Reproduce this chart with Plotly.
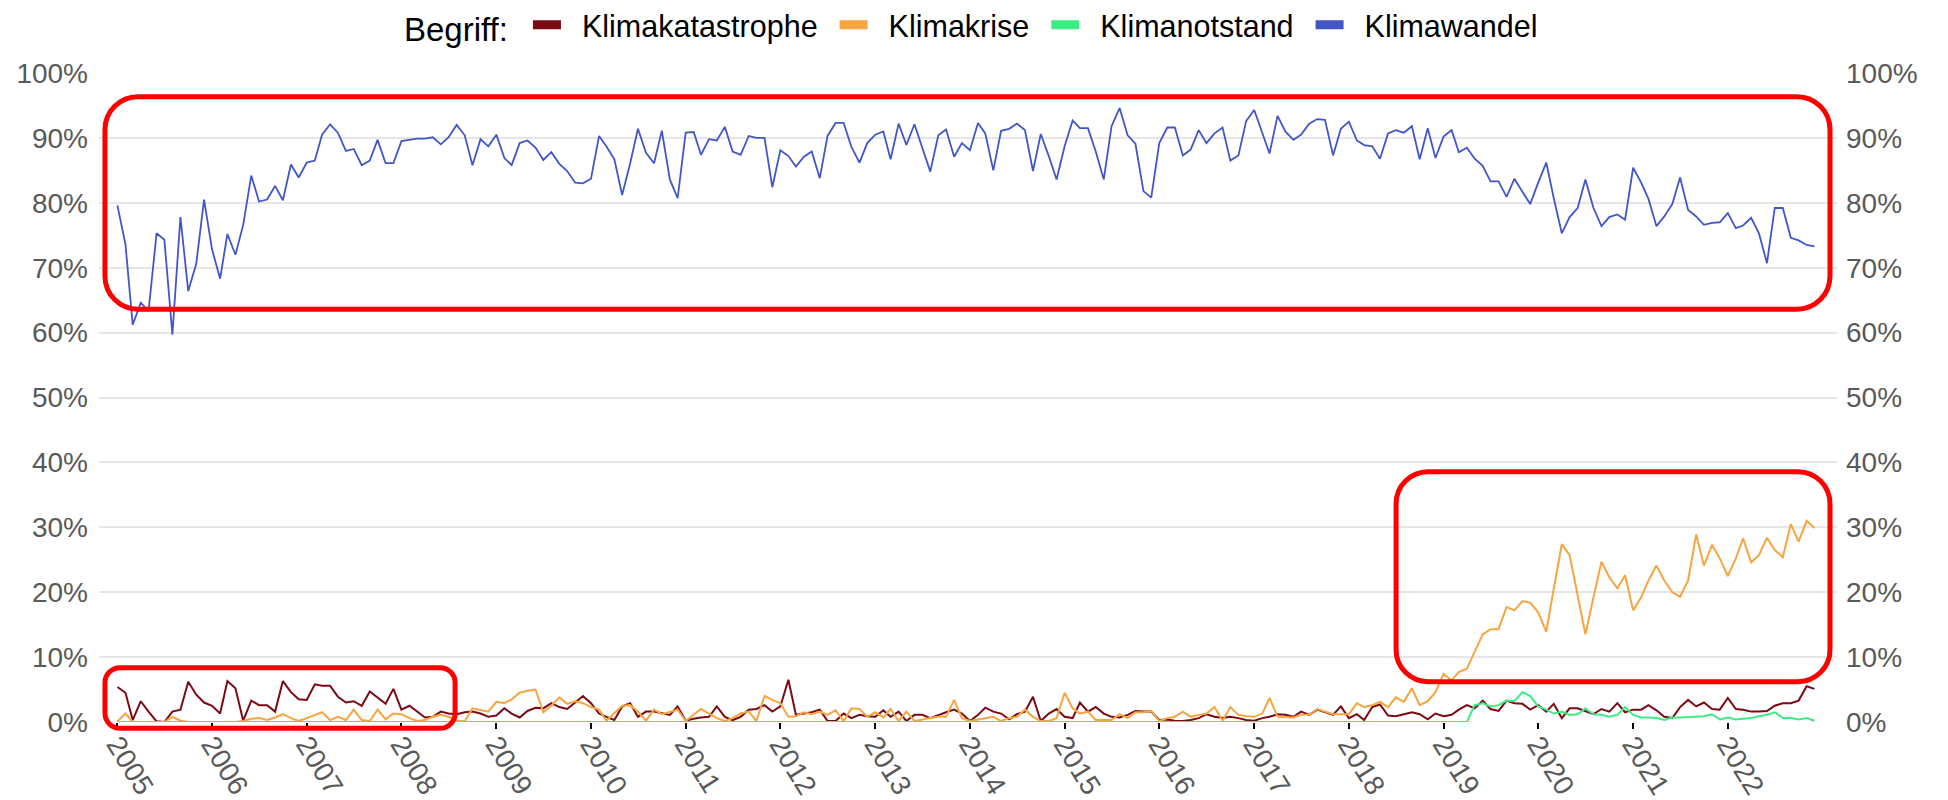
import pandas as pd
import plotly.graph_objects as go

# ---------------- data (share of search interest, %) ----------------
months = pd.date_range("2005-01-01", "2022-12-01", freq="MS")

klimakatastrophe = [
    5.4, 4.5, 0.3, 3.2, 1.6, 0.1, 0.0, 1.6, 1.9, 6.2, 4.2, 3.0,   # 2005
    2.5, 1.3, 6.3, 5.2, 0.2, 3.3, 2.6, 2.6, 1.6, 6.3, 4.6, 3.5,   # 2006
    3.4, 5.8, 5.6, 5.6, 3.9, 3.0, 3.2, 2.5, 4.7, 3.8, 2.8, 5.1,   # 2007
    1.9, 2.5, 1.6, 0.7, 0.8, 1.6, 1.3, 1.2, 1.5, 1.6, 1.3, 0.8,   # 2008
    1.0, 2.1, 1.3, 0.7, 1.7, 2.2, 2.1, 2.9, 2.3, 2.0, 3.0, 4.0,   # 2009
    2.9, 1.3, 0.8, 0.3, 2.4, 2.9, 0.8, 1.6, 1.6, 1.3, 1.1, 2.4,   # 2010
    0.2, 0.5, 0.7, 0.8, 2.4, 0.8, 0.3, 0.8, 1.9, 2.0, 2.6, 1.6,   # 2011
    2.4, 6.5, 1.1, 1.3, 1.5, 1.9, 0.15, 0.15, 1.3, 0.6, 1.1, 0.9, # 2012
    0.8, 1.8, 0.8, 1.6, 0.15, 1.1, 1.1, 0.6, 1.1, 1.5, 1.9, 1.3,  # 2013
    0.15, 1.1, 2.2, 1.6, 1.3, 0.4, 1.2, 1.6, 3.9, 0.15, 1.3, 2.0, # 2014
    0.8, 0.6, 3.0, 1.6, 2.3, 1.3, 0.8, 0.7, 1.1, 1.7, 1.6, 1.6,   # 2015
    0.3, 0.4, 0.2, 0.15, 0.3, 0.6, 1.2, 0.8, 0.6, 0.8, 0.6, 0.3,  # 2016
    0.2, 0.6, 0.8, 1.2, 1.1, 0.8, 1.6, 1.1, 1.9, 1.5, 1.1, 2.4,   # 2017
    0.6, 1.2, 0.3, 2.3, 2.7, 1.0, 0.9, 1.2, 1.5, 1.2, 0.4, 1.3,   # 2018
    0.9, 1.1, 1.9, 2.6, 2.1, 3.3, 2.0, 1.7, 3.3, 2.9, 2.8, 1.9,   # 2019
    2.6, 1.6, 2.8, 0.6, 2.1, 2.1, 1.6, 1.2, 2.0, 1.6, 2.9, 1.5,   # 2020
    1.9, 1.9, 2.6, 1.8, 0.8, 0.6, 2.3, 3.4, 2.4, 3.0, 2.0, 1.9,   # 2021
    3.7, 2.0, 1.9, 1.6, 1.6, 1.7, 2.5, 2.9, 2.9, 3.3, 5.5, 5.1,   # 2022
]

klimakrise = [
    0.1, 1.3, 0.0, 0.0, 0.0, 0.0, 0.0, 0.8, 0.2, 0.0, 0.0, 0.0,     # 2005
    0.0, 0.0, 0.0, 0.0, 0.15, 0.5, 0.6, 0.3, 0.7, 1.2, 0.6, 0.15,   # 2006
    0.6, 1.1, 1.5, 0.3, 0.8, 0.3, 1.9, 0.3, 0.15, 1.9, 0.4, 1.3,    # 2007
    1.2, 0.6, 0.15, 0.3, 0.8, 1.1, 0.8, 0.2, 0.1, 2.1, 1.9, 1.6,    # 2008
    3.1, 2.9, 3.5, 4.5, 4.8, 5.0, 1.5, 2.5, 3.8, 2.8, 3.2, 2.9,     # 2009
    2.3, 1.9, 0.2, 1.3, 2.5, 2.6, 1.6, 0.2, 1.9, 1.2, 1.6, 1.9,     # 2010
    0.15, 1.1, 2.0, 1.3, 0.6, 0.15, 0.6, 1.3, 1.6, 0.15, 4.0, 3.4,  # 2011
    2.9, 0.8, 0.9, 1.5, 1.2, 1.6, 1.1, 1.8, 0.15, 2.1, 2.0, 0.8,    # 2012
    1.5, 0.7, 2.0, 0.15, 1.6, 0.15, 0.4, 0.6, 0.8, 0.8, 3.4, 0.6,   # 2013
    0.15, 0.4, 0.6, 0.8, 0.15, 0.6, 0.8, 1.9, 0.8, 0.15, 0.15, 0.6, # 2014
    4.5, 2.1, 1.3, 1.6, 0.3, 0.3, 0.3, 1.2, 0.6, 1.5, 1.5, 1.7,     # 2015
    0.15, 0.6, 0.8, 1.6, 0.8, 1.1, 1.3, 2.3, 0.2, 2.3, 1.1, 0.9,    # 2016
    0.8, 1.3, 3.7, 0.8, 0.8, 0.7, 1.1, 1.1, 2.0, 1.6, 1.2, 1.2,     # 2017
    1.2, 2.9, 2.3, 2.6, 3.1, 2.3, 3.8, 3.1, 5.2, 2.6, 3.2, 4.6,     # 2018
    7.4, 6.4, 7.7, 8.2, 10.7, 13.5, 14.3, 14.3, 17.7, 17.2, 18.6, 18.4,  # 2019
    16.9, 13.9, 20.5, 27.4, 25.7, 19.5, 13.5, 19.2, 24.7, 22.3, 20.6, 22.6,  # 2020
    17.2, 19.2, 21.8, 24.1, 21.8, 20.0, 19.3, 21.8, 28.9, 24.1, 27.3, 25.2,  # 2021
    22.5, 25.2, 28.3, 24.6, 25.7, 28.4, 26.5, 25.4, 30.5, 27.8, 31.0, 29.9,  # 2022
]

klimanotstand = [
    0, 0, 0, 0, 0, 0, 0, 0, 0, 0, 0, 0,   # 2005
    0, 0, 0, 0, 0, 0, 0, 0, 0, 0, 0, 0,   # 2006
    0, 0, 0, 0, 0, 0, 0, 0, 0, 0, 0, 0,   # 2007
    0, 0, 0, 0, 0, 0, 0, 0, 0, 0, 0, 0,   # 2008
    0, 0, 0, 0, 0, 0, 0, 0, 0, 0, 0, 0,   # 2009
    0, 0, 0, 0, 0, 0, 0, 0, 0, 0, 0, 0,   # 2010
    0, 0, 0, 0, 0, 0, 0, 0, 0, 0, 0, 0,   # 2011
    0, 0, 0, 0, 0, 0, 0, 0, 0, 0, 0, 0,   # 2012
    0, 0, 0, 0, 0, 0, 0, 0, 0, 0, 0, 0,   # 2013
    0, 0, 0, 0, 0, 0, 0, 0, 0, 0, 0, 0,   # 2014
    0, 0, 0, 0, 0, 0, 0, 0, 0, 0, 0, 0,   # 2015
    0, 0, 0, 0, 0, 0, 0, 0, 0, 0, 0, 0,   # 2016
    0, 0, 0, 0, 0, 0, 0, 0, 0, 0, 0, 0,   # 2017
    0, 0, 0, 0, 0, 0, 0, 0, 0, 0, 0, 0,   # 2018
    0, 0, 0, 0, 2.6, 2.9, 2.4, 2.6, 3.3, 3.2, 4.6, 4.0,         # 2019
    2.4, 1.9, 1.3, 1.6, 1.1, 1.2, 2.1, 1.2, 1.1, 0.8, 1.1, 2.3, # 2020
    1.1, 0.7, 0.7, 0.6, 0.3, 0.7, 0.7, 0.8, 0.8, 0.9, 1.2, 0.4, # 2021
    0.7, 0.4, 0.5, 0.6, 0.9, 1.1, 1.5, 0.6, 0.6, 0.4, 0.6, 0.2, # 2022
]

klimawandel = [
    79.6, 73.6, 61.2, 64.6, 63.3, 75.3, 74.3, 59.7, 77.8, 66.4, 70.6, 80.5,  # 2005
    72.8, 68.3, 75.2, 72.0, 76.6, 84.2, 80.2, 80.5, 82.6, 80.4, 85.9, 83.9,  # 2006
    86.2, 86.5, 90.5, 92.1, 90.8, 88.0, 88.3, 85.8, 86.5, 89.7, 86.1, 86.1,  # 2007
    89.5, 89.7, 89.9, 89.9, 90.1, 89.0, 90.1, 92.0, 90.4, 85.8, 89.8, 88.7,  # 2008
    90.5, 86.9, 85.8, 89.2, 89.6, 88.5, 86.6, 87.8, 86.0, 84.9, 83.1, 83.0,  # 2009
    83.7, 90.3, 88.7, 86.7, 81.2, 86.1, 91.4, 87.7, 86.1, 91.1, 83.6, 80.7,  # 2010
    90.8, 90.9, 87.4, 89.8, 89.6, 91.7, 87.9, 87.4, 90.3, 90.0, 90.0, 82.4,  # 2011
    88.1, 87.2, 85.6, 87.1, 87.9, 83.8, 90.3, 92.3, 92.3, 88.6, 86.2, 89.2,  # 2012
    90.5, 91.0, 86.7, 92.2, 88.9, 92.1, 88.5, 84.8, 90.4, 91.3, 87.1, 89.2,  # 2013
    88.1, 92.3, 90.7, 85.0, 91.1, 91.4, 92.2, 91.2, 84.9, 90.6, 87.2, 83.6,  # 2014
    88.7, 92.7, 91.5, 91.5, 87.9, 83.6, 91.8, 94.6, 90.4, 89.1, 81.8, 80.8,  # 2015
    89.2, 91.6, 91.6, 87.3, 88.2, 91.2, 89.2, 90.7, 91.6, 86.5, 87.3, 92.6,  # 2016
    94.3, 90.9, 87.6, 93.4, 91.0, 89.7, 90.5, 92.2, 92.9, 92.8, 87.3, 91.4,  # 2017
    92.5, 89.6, 88.9, 88.7, 86.8, 90.7, 91.2, 90.8, 91.8, 86.7, 91.5, 86.9,  # 2018
    90.2, 91.2, 87.8, 88.5, 86.8, 85.7, 83.3, 83.3, 80.9, 83.7, 81.8, 79.8,  # 2019
    83.1, 86.2, 80.7, 75.3, 77.8, 79.2, 83.6, 79.2, 76.4, 77.8, 78.2, 77.4,  # 2020
    85.4, 83.1, 80.6, 76.4, 77.9, 79.8, 83.9, 78.9, 77.9, 76.6, 76.9, 77.0,  # 2021
    78.4, 76.1, 76.5, 77.7, 75.3, 70.7, 79.2, 79.2, 74.6, 74.2, 73.5, 73.3,  # 2022
]

series_names = ["Klimakatastrophe", "Klimakrise", "Klimanotstand", "Klimawandel"]
series_values = [klimakatastrophe, klimakrise, klimanotstand, klimawandel]
series_colors = ["#7b0a14", "#f7a540", "#3ded84", "#4256c8"]
series_widths = [2.0, 2.0, 2.0, 1.8]

y_tickvals = [0, 10, 20, 30, 40, 50, 60, 70, 80, 90, 100]
y_ticktext = ["0%", "10%", "20%", "30%", "40%", "50%", "60%", "70%", "80%", "90%", "100%"]
x_tickyears = ["2005", "2006", "2007", "2008", "2009", "2010", "2011", "2012", "2013",
               "2014", "2015", "2016", "2017", "2018", "2019", "2020", "2021", "2022"]

# highlighted regions (data units: dates / percent) and corner radius in px
highlights = [
    dict(x0="2004-11-14", x1="2023-01-30", y0=63.6, y1=96.35, r=33),
    dict(x0="2004-11-14", x1="2008-07-26", y0=-0.97, y1=8.37, r=15),
    dict(x0="2018-07-02", x1="2023-01-30", y0=6.21, y1=38.57, r=32),
]

# ---------------- layout constants ----------------
W, H = 1948, 800
M = dict(l=99, r=111, t=73, b=78)
PLOT_W = W - M["l"] - M["r"]
PLOT_H = H - M["t"] - M["b"]
X_RANGE = ["2004-10-22", "2023-02-26"]
Y_RANGE = [0, 100]
FONT = "Liberation Sans, Arial, sans-serif"
TICK_COLOR = "#595959"
LEGEND_ITEMWIDTH = 56

fig = go.Figure()

for name, vals, col, lw in zip(series_names, series_values, series_colors, series_widths):
    fig.add_trace(go.Scatter(
        x=months, y=vals, mode="lines", name=name, legendgroup=name,
        line=dict(color=col, width=lw), showlegend=False,
    ))
# legend swatches: short thick bars (dash pattern trims the legend line)
for name, col in zip(series_names, series_colors):
    fig.add_trace(go.Scatter(
        x=[None], y=[None], mode="lines", name=name, legendgroup=name,
        line=dict(color=col, width=9, dash="0px,12px,28px,300px"),
        showlegend=True, hoverinfo="skip",
    ))
# invisible trace to carry the right-hand axis
fig.add_trace(go.Scatter(x=[months[0]], y=[None], yaxis="y2", showlegend=False,
                         hoverinfo="skip", mode="lines"))

# rounded highlight rectangles converted to paper coordinates
x0_ms = pd.Timestamp(X_RANGE[0]).value / 1e6
x1_ms = pd.Timestamp(X_RANGE[1]).value / 1e6


def px_(d):
    return (pd.Timestamp(d).value / 1e6 - x0_ms) / (x1_ms - x0_ms)


def py_(v):
    return (v - Y_RANGE[0]) / (Y_RANGE[1] - Y_RANGE[0])


K = 1 - 0.5523
for h in highlights:
    a, b = px_(h["x0"]), px_(h["x1"])
    lo, hi = py_(h["y0"]), py_(h["y1"])
    rx, ry = h["r"] / PLOT_W, h["r"] / PLOT_H
    path = (
        f"M{a+rx},{hi} L{b-rx},{hi} "
        f"C{b-rx*K},{hi} {b},{hi-ry*K} {b},{hi-ry} "
        f"L{b},{lo+ry} "
        f"C{b},{lo+ry*K} {b-rx*K},{lo} {b-rx},{lo} "
        f"L{a+rx},{lo} "
        f"C{a+rx*K},{lo} {a},{lo+ry*K} {a},{lo+ry} "
        f"L{a},{hi-ry} "
        f"C{a},{hi-ry*K} {a+rx*K},{hi} {a+rx},{hi} Z"
    )
    fig.add_shape(type="path", path=path, xref="paper", yref="paper",
                  line=dict(color="#ff0000", width=5), layer="above")

yaxis_common = dict(
    range=Y_RANGE, tickmode="array", tickvals=y_tickvals, ticktext=y_ticktext,
    tickfont=dict(size=28, color=TICK_COLOR, family=FONT),
    showline=False, zeroline=False, ticks="",
)

fig.update_layout(
    width=W, height=H,
    margin=dict(l=M["l"], r=M["r"], t=M["t"], b=M["b"], pad=0, autoexpand=False),
    paper_bgcolor="white", plot_bgcolor="white",
    font=dict(family=FONT, color="black"),
    showlegend=True,
    legend=dict(
        orientation="h", x=(402 - M["l"]) / PLOT_W, xanchor="left", y=1.074, yanchor="middle",
        title=dict(text="Begriff:", font=dict(size=33, color="black", family=FONT)),
        font=dict(size=30.5, color="black", family=FONT),
        bgcolor="rgba(0,0,0,0)", itemwidth=LEGEND_ITEMWIDTH,
    ),
    xaxis=dict(
        type="date", range=X_RANGE, tickmode="array",
        tickvals=[f"{y}-01-01" for y in x_tickyears], ticktext=x_tickyears,
        tickangle=58, ticks="outside", ticklen=6, tickwidth=2, tickcolor="black",
        tickfont=dict(size=28, color=TICK_COLOR, family=FONT), ticklabelstandoff=-12,
        showgrid=False, showline=False, zeroline=False,
    ),
    yaxis=dict(side="left", showgrid=True, gridcolor="#e6e6e6", gridwidth=2,
               ticklabelstandoff=10, **yaxis_common),
    yaxis2=dict(side="right", overlaying="y", showgrid=False,
                ticklabelstandoff=8, **yaxis_common),
)

fig.write_html("out.html", config={"displayModeBar": False},
               post_script="document.body.style.margin='0';document.body.style.overflow='hidden';")
